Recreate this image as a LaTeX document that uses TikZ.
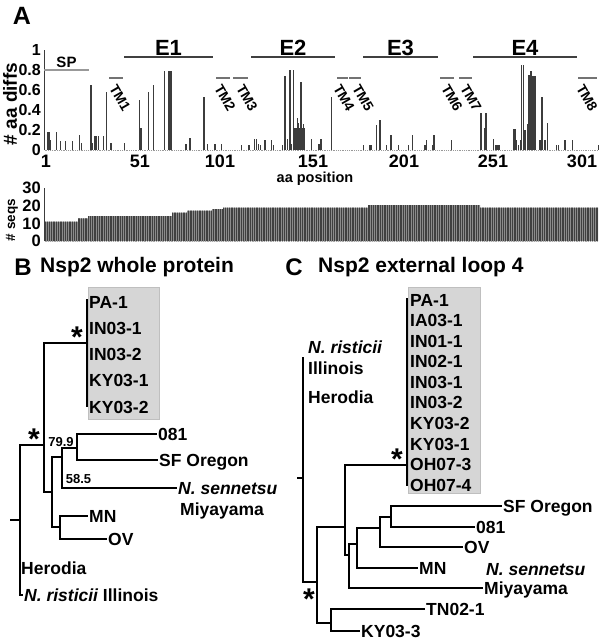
\documentclass[tikz,border=0pt]{standalone}
\usepackage{fontspec}
\setmainfont{Liberation Sans}
\definecolor{barc}{HTML}{3C3C3C}
\definecolor{boxc}{HTML}{D6D6D6}
\newcommand{\fs}[1]{\fontsize{#1}{#1}\selectfont\bfseries}
\begin{document}
\begin{tikzpicture}[x=1pt,y=-1pt,
  lab/.style={anchor=base west, inner sep=1pt, yshift=-6.2pt, font=\fs{17.5}},
  tb/.style={line width=2.4pt, line join=miter},
  tc/.style={line width=1.6pt, line join=miter},
  star/.style={anchor=north, inner sep=0pt, font=\fs{30}},
  boot/.style={inner sep=0pt, font=\fs{13}},
  panel/.style={inner sep=0pt, font=\fs{24}},
  title/.style={anchor=west, inner sep=0pt, font=\fs{21}},
  elab/.style={anchor=base, inner sep=0pt, font=\fs{22}},
  tmlab/.style={inner sep=0pt, rotate=-60, font=\fs{14}},
  ytick/.style={anchor=east, inner sep=0pt, font=\fs{16}},
  xtick/.style={inner sep=0pt, font=\fs{18}},
  graybox/.style={fill=boxc, draw=black!25, line width=0.6pt}
]
\useasboundingbox (0,0) rectangle (600,642);
% ---------------- Panel A ----------------
\node[panel, font=\fs{25}] (pA) at (22,16) {A};
% axes
\coordinate (ax0) at (44.5,150);
\coordinate (ax1) at (44.5,50);
\coordinate (axe) at (598,150);
\draw[barc, line width=0.9pt] (ax0) -- (ax1);
\draw[black!40, line width=1pt, dash pattern=on 1pt off 0.8pt] (ax0) -- (axe);
\foreach \v/\t in {0/0,0.2/0.2,0.4/0.4,0.6/0.6,0.8/0.8,1/1}
  \node[ytick] at (41,150-100*\v) {\t};
\foreach \x/\t in {46/1,140/51,220/101,313/151,404/201,493/251,582/301}
  \node[xtick] at (\x,161.5) {\t};
\node[inner sep=0pt, rotate=90, font=\fs{19}] (ylabA) at (10,104) {\# aa diffs};
\node[inner sep=0pt, font=\fs{14.5}] (xlabA) at (315,179) {aa position};
% bars
\foreach \x/\h in {47.7/.18, 49/.18, 50.3/.10, 56.7/.18, 60.7/.09, 65.7/.09, 72.7/.09, 79.3/.15, 81.7/.07, 91/.65, 92.3/.07, 94.3/.14, 96/.14, 98.3/.14, 103.7/.14, 106.7/.58, 111/.07, 124.3/.07, 139.3/.50, 141/.22, 148.3/.58, 153.3/.65, 164.3/.79, 169/.79, 170.3/.79, 171.7/.79, 186/.06, 190/.12, 204/.53, 207.7/.06, 215/.06, 221.7/.06, 241.7/.05, 249/.05, 254.3/.11, 256.7/.11, 258.3/.06, 260.3/.05, 265/.10, 271.7/.10, 273.7/.05, 282.3/.05, 285/.74, 287.7/.11, 290/.80, 291.3/.06, 293.3/.80, 295/.22, 296.3/.22, 297.3/.32, 298.7/.27, 300/.22, 301/.68, 302.3/.22, 303.3/.26, 304.7/.22, 311.7/.11, 319/.06, 321/.11, 331.7/.53, 363.3/.05, 369.3/.05, 371/.05, 376.7/.25, 380/.30, 386.7/.05, 391/.15, 398.3/.05, 408.3/.05, 412.3/.15, 425/.05, 426.7/.10, 432.3/.05, 434/.15, 451.7/.10, 481/.37, 484.3/.22, 486/.37, 493.3/.11, 496/.05, 497.7/.05, 499/.05, 513.3/.21, 515/.21, 516.7/.10, 518.3/.05, 520.3/.10, 521.7/.85, 523.7/.85, 525/.20, 527.3/.26, 529/.75, 531/.79, 532.3/.74, 533.7/.74, 535/.74, 539.3/.10, 541/.10, 542/.53, 545/.10, 547.3/.27, 556.7/.05, 558.3/.05, 565/.10, 572.3/.10, 598.3/.05}
  \fill[barc] (\x-0.55,150) rectangle (\x+0.55,150-100*\h);
% region annotations
\coordinate (sp0) at (44,70); \coordinate (sp1) at (89,70);
\draw[black!40, line width=1.2pt] (sp0) -- (sp1);
\node[anchor=base, inner sep=0pt, font=\fs{15}] (spl) at (66.5,67) {SP};
\foreach \a/\b/\t in {124/213/E1, 251/335/E2, 363/438/E3, 473/577/E4}{
  \draw[black!75, line width=1.2pt] (\a,57) -- (\b,57);
  \node[elab] at ({(\a+\b)/2},55.5) {\t};
}
\foreach \a/\b/\c/\t in {109/123/120/TM1, 216/230/225/TM2, 233/248/247/TM3, 337/348/344/TM4, 349/361/363/TM5, 440/454/452/TM6, 459/472/471/TM7, 578/597/587/TM8}{
  \draw[black!55, line width=1.2pt] (\a,78) -- (\b,78);
  \node[tmlab] at (\c,98) {\t};
}
% ---------------- # seqs chart ----------------
\fill[black!45] (45,241) -- (45,221.7) -- (78,221.7) -- (78,218.3) -- (88,218.3) -- (88,216) -- (172,216) -- (172,212.7) -- (187,212.7) -- (187,210.7) -- (212,210.7) -- (212,209) -- (223,209) -- (223,207.5) -- (368,207.5) -- (368,205) -- (480,205) -- (480,207.5) -- (598,207.5) -- (598,241) -- cycle;
\begin{scope}
\clip (45,241) -- (45,221.7) -- (78,221.7) -- (78,218.3) -- (88,218.3) -- (88,216) -- (172,216) -- (172,212.7) -- (187,212.7) -- (187,210.7) -- (212,210.7) -- (212,209) -- (223,209) -- (223,207.5) -- (368,207.5) -- (368,205) -- (480,205) -- (480,207.5) -- (598,207.5) -- (598,241) -- cycle;
\foreach \i in {0,...,310}
  \draw[black!75, line width=0.85pt] (45.9+\i*1.78,200) -- (45.9+\i*1.78,245);
\end{scope}
\coordinate (sx0) at (44.5,241); \coordinate (sx1) at (44.5,188); \coordinate (sxe) at (598,241);
\draw[barc, line width=0.9pt] (sx0) -- (sx1);
\draw[black!35, line width=1pt, dash pattern=on 1pt off 0.8pt] (sx0) -- (sxe);
\foreach \v in {0,10,20,30}
  \node[ytick, font=\fs{16.5}] at (41,241-1.76*\v) {\v};
\node[inner sep=0pt, rotate=90, font=\fs{13.5}] (ylabS) at (12,220) {\# seqs};
% ---------------- Panel B ----------------
\node[panel] (pB) at (23,267) {B};
\node[title] (tB) at (40,267) {Nsp2 whole protein};
\draw[graybox] (88,287) rectangle (159,419);
\coordinate (bRt) at (10,520);
\coordinate (bR) at (20,520);
\coordinate (bHer) at (20,568);
\coordinate (bRis) at (23,595);
\coordinate (bN2) at (44,445);
\coordinate (bCl) at (87,343);
\coordinate (bClt) at (87,299);
\coordinate (bClb) at (87,407);
\coordinate (bN3) at (52,492);
\coordinate (bN4) at (62,457);
\coordinate (bN6) at (77,448);
\coordinate (bSen) at (177,488);
\coordinate (b081) at (157,434);
\coordinate (bSF) at (158,460);
\coordinate (bN5) at (60,527);
\coordinate (bMN) at (88,516);
\coordinate (bOV) at (107,539);
\draw[tb] (bRt) -- (bR);
\draw[tb] (bR) |- (bN2);
\draw[tb] (bR) |- (bRis);
\draw[tb] (bN2) |- (bCl);
\draw[tb] (bN2) |- (bN3);
\draw[tb] (bClt) -- (bClb);
\draw[tb] (bN3) |- (bN4);
\draw[tb] (bN3) |- (bN5);
\draw[tb] (bN4) |- (bN6);
\draw[tb] (bN4) |- (bSen);
\draw[tb] (bN6) |- (b081);
\draw[tb] (bN6) |- (bSF);
\draw[tb] (bN5) |- (bMN);
\draw[tb] (bN5) |- (bOV);
\foreach \n/\t [count=\i from 0] in {bPA/PA-1, bIN1/IN03-1, bIN2/IN03-2, bKY1/KY03-1, bKY2/KY03-2}
  \node[lab] (\n) at (88,302+26.2*\i) {\t};
\node[lab] (b081t) at (b081) {081};
\node[lab] (bSFt) at (bSF) {SF Oregon};
\node[lab] (bSent) at (bSen) {\itshape N. sennetsu};
\node[lab] (bMiy) at (179,509) {Miyayama};
\node[lab] (bMNt) at (bMN) {MN};
\node[lab] (bOVt) at (bOV) {OV};
\node[lab] (bHert) at (bHer) {Herodia};
\node[lab] (bRist) at (bRis) {\itshape N. risticii\upshape\ Illinois};
\node[boot] (bb1) at (61,442) {79.9};
\node[boot] (bb2) at (78.5,479.5) {58.5};
\node[star] (bs1) at (77,327) {*};
\node[star] (bs2) at (34,429) {*};
% ---------------- Panel C ----------------
\node[panel] (pC) at (294,267) {C};
\node[title] (tC) at (318,267) {Nsp2 external loop 4};
\draw[graybox] (408,287) rectangle (480,493);
\coordinate (cRt) at (297,478);
\coordinate (cR) at (303,478);
\coordinate (cTop) at (303,357);
\coordinate (cN2) at (317,582);
\coordinate (cN3) at (345,527);
\coordinate (cN4) at (331,623);
\coordinate (cCl) at (407,465);
\coordinate (cClt) at (407,298);
\coordinate (cClb) at (407,486);
\coordinate (cN5) at (349,555);
\coordinate (cN6) at (357,544);
\coordinate (cMiy) at (483,588);
\coordinate (cN7) at (380,528);
\coordinate (cMN) at (418,568);
\coordinate (cN8) at (391,517);
\coordinate (cOV) at (463,547);
\coordinate (cSF) at (502,506);
\coordinate (c081) at (475,527);
\coordinate (cTN) at (425,609);
\coordinate (cKY) at (360,631);
\draw[tc] (cRt) -- (cR);
\draw[tc] (cR) |- (cTop);
\draw[tc] (cR) |- (cN2);
\draw[tc] (cN2) |- (cN3);
\draw[tc] (cN2) |- (cN4);
\draw[tc] (cN3) |- (cCl);
\draw[tc] (cN3) |- (cN5);
\draw[tc] (cClt) -- (cClb);
\draw[tc] (cN5) |- (cN6);
\draw[tc] (cN5) |- (cMiy);
\draw[tc] (cN6) |- (cN7);
\draw[tc] (cN6) |- (cMN);
\draw[tc] (cN7) |- (cN8);
\draw[tc] (cN7) |- (cOV);
\draw[tc] (cN8) |- (cSF);
\draw[tc] (cN8) |- (c081);
\draw[tc] (cN4) |- (cTN);
\draw[tc] (cN4) |- (cKY);
\foreach \n/\t [count=\i from 0] in {cPA/PA-1, cIA/IA03-1, cIN01/IN01-1, cIN02/IN02-1, cIN31/IN03-1, cIN32/IN03-2, cKY2/KY03-2, cKY1/KY03-1, cOH3/OH07-3, cOH4/OH07-4}
  \node[lab] (\n) at (409,300+20.55*\i) {\t};
\node[lab] (cRist) at (307,347) {\itshape N. risticii};
\node[lab] (cIll) at (307,368) {Illinois};
\node[lab] (cHer) at (307,397) {Herodia};
\node[lab] (cSFt) at (cSF) {SF Oregon};
\node[lab] (c081t) at (c081) {081};
\node[lab] (cOVt) at (cOV) {OV};
\node[lab] (cMNt) at (cMN) {MN};
\node[lab] (cSent) at (485,569) {\itshape N. sennetsu};
\node[lab] (cMiyt) at (cMiy) {Miyayama};
\node[lab] (cTNt) at (cTN) {TN02-1};
\node[lab] (cKYt) at (cKY) {KY03-3};
\node[star] (cs1) at (397,449) {*};
\node[star] (cs2) at (309,589) {*};
\end{tikzpicture}
\end{document}
